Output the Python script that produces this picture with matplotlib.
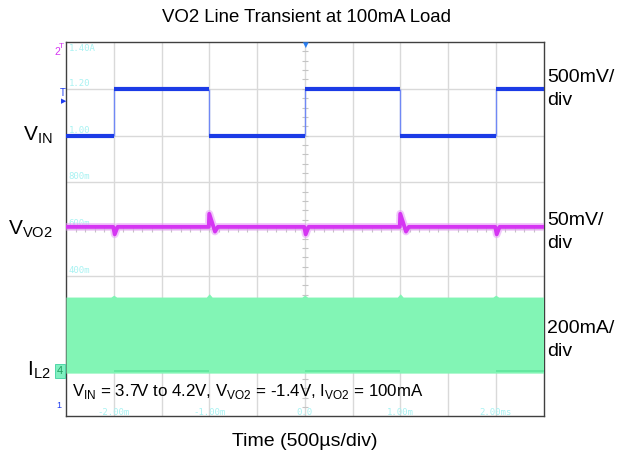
import numpy as np
import matplotlib
matplotlib.use("Agg")
import matplotlib.pyplot as plt

plt.rcParams["font.family"] = ["Liberation Sans", "DejaVu Sans"]

# ---- data (time in ms, 500us/div) ----
vin_t_start = [-2.5, -2.0, -1.0, 0.0, 1.0, 2.0]
vin_t_end = [-2.0, -1.0, 0.0, 1.0, 2.0, 2.5]
vin_level = [3.7, 4.2, 3.7, 4.2, 3.7, 4.2]          # V
vin_edges = [-2.0, -1.0, 0.0, 1.0, 2.0]

vo2_t = [-2.5, -2.005, -1.99, -1.96, -1.005, -1.0, -0.94, -0.91,
         -0.005, 0.01, 0.04, 0.995, 1.0, 1.06, 1.09,
         1.995, 2.01, 2.04, 2.5]
vo2_mv = [-1400, -1400, -1408, -1400, -1400, -1386, -1405, -1400,
          -1400, -1408, -1400, -1400, -1386, -1405, -1400,
          -1400, -1408, -1400, -1400]

il2_t = [-2.5, -2.03, -2.0, -1.97, -1.03, -1.0, -0.97, -0.03, 0.0, 0.03,
         0.97, 1.0, 1.03, 1.97, 2.0, 2.03, 2.5]
il2_top = [310, 310, 318, 310, 310, 324, 310, 310, 318, 310,
           310, 324, 310, 310, 318, 310, 310]          # mA
il2_bottom = -15                                       # mA
il2_edge_mA = -7

scale_labels = ["-0.0", "200m", "400m", "600m", "800m", "1.00", "1.20", "1.40A"]
time_labels = ["-2.00m", "-1.00m", "0.0", "1.00m", "2.00ms"]
time_label_pos = [-2.0, -1.0, 0.0, 1.0, 2.0]

W, H = 623, 463
fig = plt.figure(figsize=(W / 100, H / 100), dpi=100)


def fx(x):
    return x / W


def fy(y):
    return 1 - y / H


# scope screen in division units
ax = fig.add_axes([fx(66), fy(416.4), (543.5 - 66) / W, (416.4 - 42) / H])
ax.set_xlim(-2.5, 2.5)
ax.set_ylim(0, 8)
ax.set_xticks(np.arange(-2.0, 2.01, 0.5))
ax.set_yticks(range(1, 8))
ax.grid(True, color="#d9d9d9", lw=1)
ax.tick_params(length=0, labelleft=False, labelbottom=False)
for s in ax.spines.values():
    s.set_color("#404040")
    s.set_linewidth(1)
# minor ticks on centre lines
ax.plot(np.zeros(39), np.arange(0.2, 8, 0.2), ls="none", marker="_", ms=4,
        color="#c4c4c4", mew=0.8)
ax.plot(np.arange(-2.4, 2.5, 0.1), np.full(49, 4), ls="none", marker="|", ms=4,
        color="#c4c4c4", mew=0.8)

for i, lab in enumerate(scale_labels):
    yy = i + 1
    ax.text(-2.475, yy - 0.05 if yy == 8 else yy + 0.02, lab, fontsize=6.5,
            family="DejaVu Sans Mono", color="#a8f2f2",
            va="top" if yy == 8 else "bottom", ha="left")
for tp, lab in zip(time_label_pos, time_labels):
    ax.text(tp, 0.09, lab, fontsize=6.5, family="DejaVu Sans Mono",
            color="#a8f2f2", ha="center", va="center")

# IL2 : 200mA/div, zero at div 1
ax_il = ax.twinx()
ax_il.set_ylim(-200, 1400)
ax_il.axis("off")
ax_il.fill_between(il2_t, il2_bottom, il2_top, color="#82f5b5", lw=0)
ax_il.hlines([il2_edge_mA] * 3, [vin_t_start[i] for i in (1, 3, 5)],
             [vin_t_end[i] for i in (1, 3, 5)], color="#5fe69c", lw=1.2)

# VVO2 : 50mV/div
ax_vo = ax.twinx()
ax_vo.set_ylim(-1400 - 4.05 * 50, -1400 + 3.95 * 50)
ax_vo.axis("off")
ax_vo.plot(vo2_t, vo2_mv, color="#e69af8", lw=5.5, alpha=0.55)
ax_vo.plot(vo2_t, vo2_mv, color="#d535f2", lw=2.8)

# VIN : 500mV/div, 3.7V at div 6
ax_vi = ax.twinx()
ax_vi.set_ylim(0.7, 4.7)
ax_vi.axis("off")
ax_vi.vlines(vin_edges, min(vin_level), max(vin_level), color="#7088f5", lw=1)
ax_vi.hlines(vin_level, vin_t_start, vin_t_end, color="#1b3be6", lw=3)

# scope markers
fig.text(fx(54), fy(52), "2", color="#d535f2", fontsize=7.5, va="center")
fig.text(fx(59), fy(46), "T", color="#d535f2", fontsize=6, va="center")
fig.text(fx(60), fy(93), "T", color="#1e3cf0", fontsize=7, va="center")
fig.text(fx(61), fy(102), "\u25b6", color="#1e3cf0", fontsize=5, va="center")
fig.text(fx(305), fy(45), "\u25bc", color="#2a7ef0", fontsize=7, va="center", ha="center")
fig.text(fx(57), fy(371), "4", color="#20a060", fontsize=8, va="center",
         bbox=dict(boxstyle="square,pad=0.2", fc="#80f0c0", ec="#40d0a0", lw=0.6))
fig.text(fx(56), fy(406), "1", color="#1e3cf0", fontsize=6.5, va="center")

# titles and labels
fig.text(fx(306), fy(18), "VO2 Line Transient at 100mA Load", ha="center",
         va="center", fontsize=13.4)
fig.text(fx(305), fy(441), "Time (500\u00b5s/div)", ha="center", va="center",
         fontsize=14)
fig.text(fx(53), fy(135), r"V$_\mathregular{IN}$", ha="right", va="center", fontsize=15)
fig.text(fx(53), fy(229), r"V$_\mathregular{VO2}$", ha="right", va="center", fontsize=15)
fig.text(fx(51), fy(370), r"I$_\mathregular{L2}$", ha="right", va="center", fontsize=15)

for y, lab in [(89, "500mV/\ndiv"), (232, "50mV/\ndiv"), (340, "200mA/\ndiv")]:
    fig.text(fx(547), fy(y), lab, ha="left", va="center", fontsize=14,
             linespacing=1.45)

ax.text(-2.44, 0.43, r"V$_\mathregular{IN}$ = 3.7V to 4.2V, V$_\mathregular{VO2}$ = -1.4V, "
        r"I$_\mathregular{VO2}$ = 100mA", fontsize=12.2, ha="left", va="baseline",
        zorder=10)

fig.savefig("out.png", dpi=100, facecolor="white")
